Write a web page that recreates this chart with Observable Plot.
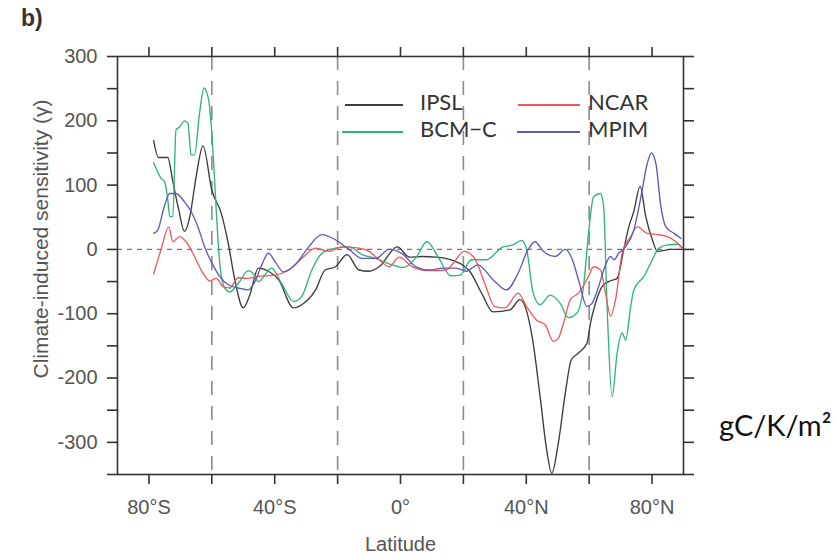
<!DOCTYPE html>
<html>
<head>
<meta charset="utf-8">
<script src="https://cdn.jsdelivr.net/npm/d3@7"></script>
<script src="https://cdn.jsdelivr.net/npm/@observablehq/plot@0.6"></script>
<style>
  html, body { margin: 0; padding: 0; background: #fff; }
  #wrap { position: relative; width: 835px; height: 554px; overflow: hidden; }
  #panel { position: absolute; left: 21px; top: 5px; font: bold 23px "Liberation Sans", Arial, sans-serif; color: #333; }
  #unit { position: absolute; left: 719px; top: 407px; font: 29px Lato, "Open Sans", sans-serif; color: #111; }
  #ytitle { position: absolute; left: 40px; top: 239px; transform: translate(-50%, -50%) rotate(-90deg);
            white-space: nowrap; font: 21px "Liberation Sans", Arial, sans-serif; color: #555; line-height: 1; }
  .lg { position: absolute; font: 22px Lato, "Open Sans", sans-serif; color: #333; line-height: 1; }
  .sw { position: absolute; height: 1.5px; }
</style>
</head>
<body>
<div id="wrap">
  <div id="chart"></div>
  <div id="panel">b)</div>
  <div id="unit">gC/K/m²</div>
  <div id="ytitle"></div>
  <div id="legend"></div>
</div>
<script>
// ---- data ----
const ipslLat = [-78.5,-77,-74,-72.5,-70.5,-68.7,-67,-65,-62.8,-60,-57,-54.8,-52.7,-50,-48,-45.2,-42,-38.8,-34,-31.4,-27,-24,-20.7,-17,-13.2,-10,-6.8,-1,2.8,7,11.3,16.6,20,22,26,29.4,34.8,38,40,42.2,44.4,46.5,48.1,50.2,52.4,54.3,56.6,59.3,60.4,62,64.1,66.2,68.9,71,72.6,74.2,76.2,78,80.1,81.7,86,90];
const ipslVal = [169,143,143,108,61,28,51,113,161,92,56,10,-47,-91,-72,-29,-34,-47,-91,-86,-63,-32,-27,-8,-32,-34,-27,4,-12,-11,-12,-17,-25,-34,-70,-97,-94,-78,-94,-146,-229,-312,-348,-301,-224,-172,-161,-146,-115,-84,-58,-50,-45,0,35,59,98,51,15,-3,0,0];

const bcmLat = [-78.5,-76.2,-75,-74,-73.4,-72.4,-71.4,-70.3,-68.7,-67.6,-66.6,-65.5,-63.9,-62.5,-61,-59.6,-58.6,-57.5,-55.9,-54.3,-51.6,-48.4,-46.8,-45.2,-41,-37.8,-34,-31.4,-28.2,-25,-20.7,-16.4,-12.2,-7.9,-2.6,1,4.9,8.4,12,16,19,22.5,27.3,32.6,35.8,38.5,40.1,42.2,44.4,47.6,50.8,53.4,56.1,58.2,59.8,61.4,63.6,64.6,65.7,67.3,68.9,70.5,71.6,73.2,74.2,77.4,79.6,82.2,84.9,88.1,90];
const bcmVal = [135,111,105,77,51,51,186,190,200,196,147,147,212,251,232,150,61,-21,-60,-66,-53,-33,-38,-50,-29,-53,-81,-73,-32,-6,2,4,-8,-14,-24,-28,-13,12,-12,-41,-40,-16,-16,4,7,14,0,-68,-86,-71,-84,-106,-99,-58,25,82,87,67,-89,-229,-161,-130,-141,-89,-63,-42,-21,2,7,8,0];

const ncarLat = [-78.5,-76.2,-73.7,-72.4,-70.3,-68.2,-65.5,-62.8,-60.7,-58.6,-56.4,-54.3,-51.6,-49,-45.2,-40,-35.6,-31.4,-27.1,-22.8,-18.6,-13.2,-10,-6.8,-3.6,-0.4,3.8,9.2,14.5,17,20.2,23.6,26.8,30,33.2,37.4,40.1,43.3,46,48.6,50.2,52,54,56.6,59.8,61.4,63.6,65.2,66.8,68.4,70.5,73.2,75.3,78.5,81.7,84.9,87.6,90];
const ncarVal = [-38,-1,35,12,20,12,-11,-37,-49,-45,-58,-60,-44,-45,-42,-40,-32,-14,2,-3,4,2,-3,-16,-27,-12,-27,-33,-32,-20,-3,-14,-53,-89,-91,-68,-89,-110,-117,-143,-138,-112,-78,-68,-42,-27,-32,-68,-104,-78,-6,20,35,25,23,20,12,0];

const mpimLat = [-78.5,-77.2,-75.1,-73.4,-71.4,-68.7,-66.6,-64.4,-62.3,-60,-57.5,-54.8,-51.6,-48.4,-46.3,-44.2,-42,-39.9,-37.2,-33.5,-29.2,-25,-20.7,-16.4,-12.2,-7.9,-3.6,0.6,4.9,9.2,13.4,17.7,20.9,24.6,29.4,33.7,37.4,40.6,42.8,45.4,49.2,52.4,54.5,56.6,59.3,60.9,63,65.2,66.8,67.9,69.4,71.6,74.2,76.4,78.5,79.8,81.2,82.8,84.4,87,89.2];
const mpimVal = [25,30,67,87,87,74,59,35,4,-21,-42,-55,-60,-63,-50,-25,-6,-19,-35,-24,4,23,15,0,-14,-14,0,-7,-27,-32,-29,-29,-34,-24,-47,-63,-37,0,12,-3,-11,0,-14,-47,-89,-84,-58,-24,-11,-16,-6,4,30,80,134,150,134,67,35,25,17];

const models = ["IPSL", "BCM-C", "NCAR", "MPIM"];
const modelColors = ["#3c3c3c", "#2db67a", "#f05a5a", "#5c5cb8"];
const dashLats = [-60, -20, 20, 60];
const xTicks = [-80, -60, -40, -20, 0, 20, 40, 60, 80];
const xLabels = {"-80": "80°S", "-40": "40°S", "0": "0°", "40": "40°N", "80": "80°N"};
const yTicks = [-350, -300, -250, -200, -150, -100, -50, 0, 50, 100, 150, 200, 250, 300];
const yTitle = "Climate-induced sensitivity (γ)";

// ---- build table ----
const seriesLat = [ipslLat, bcmLat, ncarLat, mpimLat];
const seriesVal = [ipslVal, bcmVal, ncarVal, mpimVal];
const rows = [];
models.forEach((m, i) => seriesLat[i].forEach((lat, j) => rows.push({model: m, lat, v: seriesVal[i][j]})));

const chart = Plot.plot({
  width: 835,
  height: 554,
  marginLeft: 117,
  marginRight: 152,
  marginTop: 56,
  marginBottom: 80,
  style: {fontFamily: '"Liberation Sans", Arial, sans-serif', fontSize: "20px", background: "#fff", color: "#555"},
  x: {domain: [-90, 90]},
  y: {domain: [-350, 300]},
  color: {domain: models, range: modelColors},
  marks: [
    Plot.ruleX(dashLats, {stroke: "#8c8c8c", strokeWidth: 1.6, strokeDasharray: "14,11"}),
    Plot.ruleY([0], {stroke: "#777", strokeWidth: 1.4, strokeDasharray: "5,5"}),
    Plot.line(rows, {x: "lat", y: "v", z: "model", stroke: "model", strokeWidth: 1.35, curve: "monotone-x"}),
    Plot.frame({stroke: "#333", strokeWidth: 1.6}),
    Plot.axisX(xTicks, {anchor: "bottom", tickSize: 10, tickPadding: 15, stroke: "#333", strokeWidth: 1.6, fill: "#555",
      tickFormat: d => xLabels[String(d)] ?? "", label: "Latitude", labelAnchor: "center", labelArrow: false, labelOffset: 76}),
    Plot.axisX(xTicks, {anchor: "top", tickSize: 10, stroke: "#333", strokeWidth: 1.6, tickFormat: () => "", label: null}),
    Plot.axisY(yTicks, {anchor: "left", tickSize: 10, tickPadding: 10, stroke: "#333", strokeWidth: 1.6, fill: "#555",
      tickFormat: d => (d % 100 === 0 ? String(d) : ""), label: null}),
    Plot.axisY(yTicks, {anchor: "right", tickSize: 10, stroke: "#333", strokeWidth: 1.6, tickFormat: () => "", label: null})
  ]
});
document.getElementById("chart").appendChild(chart);
document.getElementById("ytitle").textContent = yTitle;

// ---- legend (HTML overlay) ----
const legendPos = [
  {sx: 345, sw: 58, tx: 420, y: 104},
  {sx: 342, sw: 61, tx: 420, y: 131},
  {sx: 518, sw: 62, tx: 588, y: 104},
  {sx: 517, sw: 63, tx: 588, y: 131}
];
const lg = document.getElementById("legend");
models.forEach((m, i) => {
  const p = legendPos[i];
  const s = document.createElement("div");
  s.className = "sw";
  s.style.left = p.sx + "px"; s.style.top = p.y + "px"; s.style.width = p.sw + "px";
  s.style.background = modelColors[i];
  lg.appendChild(s);
  const t = document.createElement("div");
  t.className = "lg";
  t.textContent = m === "BCM-C" ? "BCM\u2212C" : m;
  t.style.left = p.tx + "px"; t.style.top = (p.y - 13) + "px";
  lg.appendChild(t);
});
</script>
</body>
</html>
